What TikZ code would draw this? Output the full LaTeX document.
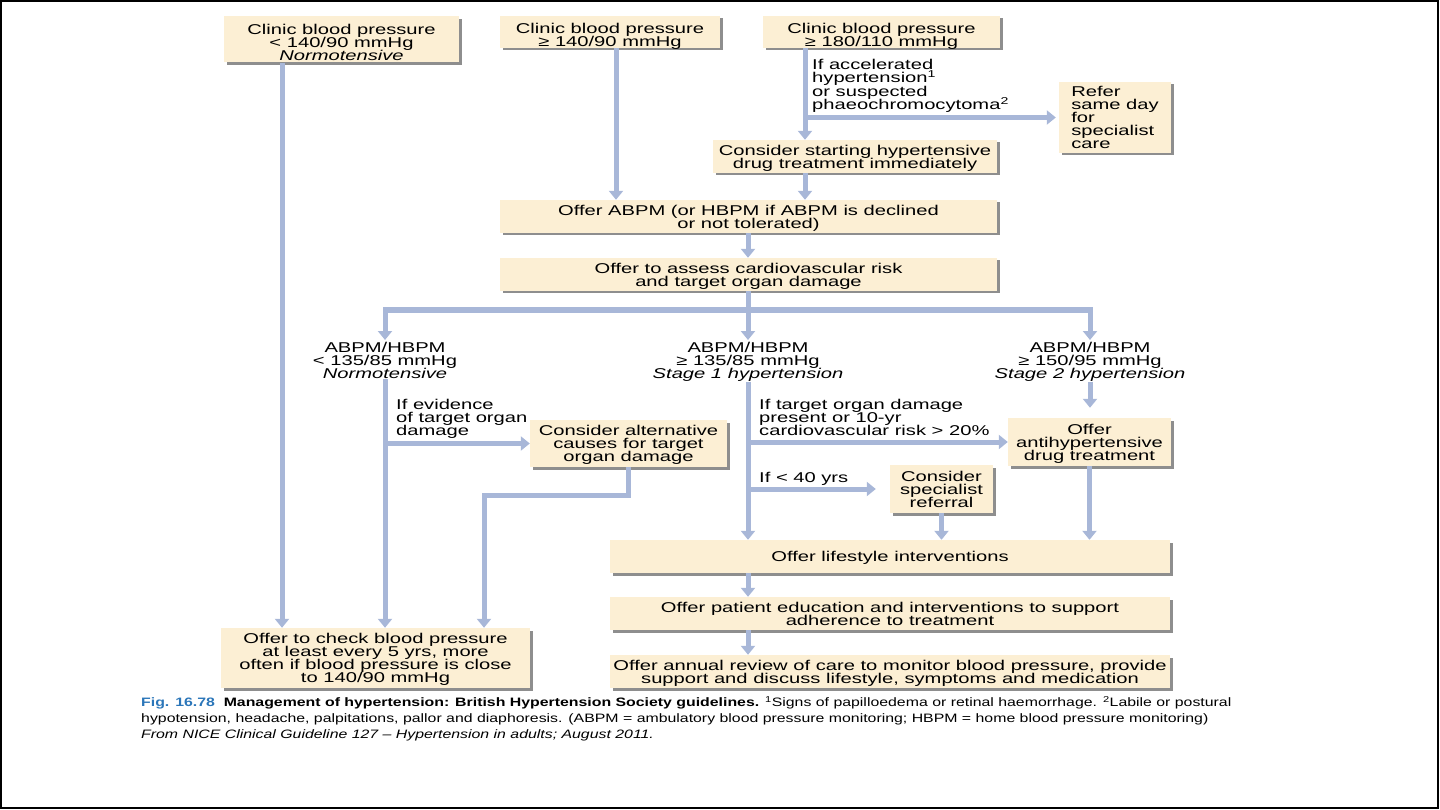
\documentclass[tikz,border=0pt]{standalone}
\usepackage{fontspec}
\setmainfont{Liberation Sans}[FakeStretch=1.42]
\newfontfamily\capfont{Liberation Sans}[FakeStretch=1.3]
\usetikzlibrary{arrows.meta,shadows,calc}
\definecolor{boxc}{HTML}{FCEFD4}
\definecolor{arrc}{HTML}{A8B7D8}
\definecolor{shadc}{HTML}{8E8E8E}
\definecolor{figblue}{HTML}{2B76B9}
\newcommand{\boxfont}{\fontsize{14.2}{13}\selectfont\lineskiplimit=-20pt\relax}
\newcommand{\lowstrut}{\rule{0pt}{15.5pt}}
\begin{document}
\begin{tikzpicture}[x=1pt,y=-1pt,
  box/.style={fill=boxc, inner sep=0pt, align=center, text depth=0pt,
    font=\boxfont,
    drop shadow={shadow xshift=2.5pt, shadow yshift=-2.5pt, fill=shadc, opacity=1}},
  lbl/.style={inner sep=0pt, align=left, anchor=north west, font=\boxfont},
  clbl/.style={inner sep=0pt, align=center, anchor=north, font=\boxfont},
  arr/.style={draw=arrc, line width=5pt, -{Triangle[width=14pt,length=9pt]}},
  ln/.style={draw=arrc, line width=5pt},
  captxt/.style={inner sep=0pt, align=left, anchor=north west, font={\capfont\fontsize{12.2}{16}\selectfont}}]
\useasboundingbox (0,0) rectangle (1440,810);
\draw[black, line width=2pt] (1,1) rectangle (1438,808);

% boxes
\node[box, minimum width=235pt, minimum height=46pt] (A) at (341.5,39.5) {\lowstrut Clinic blood pressure\\< 140/90 mmHg\\\textit{Normotensive}};
\node[box, minimum width=220pt, minimum height=32pt] (B) at (610,32) {\lowstrut Clinic blood pressure\\≥ 140/90 mmHg};
\node[box, minimum width=237pt, minimum height=32pt] (C) at (881.5,32) {\lowstrut Clinic blood pressure\\≥ 180/110 mmHg};
\node[box, minimum width=112pt, minimum height=71pt, align=left] (refer) at (1115,117.5) {Refer\\same day\\for\\specialist\\care};
\node[box, minimum width=284pt, minimum height=33pt] (cstart) at (855,156.5) {Consider starting hypertensive\\drug treatment immediately};
\node[box, minimum width=497pt, minimum height=33pt] (abpm) at (748.5,216.5) {Offer ABPM (or HBPM if ABPM is declined\\or not tolerated)};
\node[box, minimum width=497pt, minimum height=33pt] (assess) at (748.5,274.5) {Offer to assess cardiovascular risk\\and target organ damage};

\node[clbl] (L1) at (385,342) {ABPM/HBPM\\< 135/85 mmHg\\\textit{Normotensive}};
\node[clbl] (L2) at (748,342) {ABPM/HBPM\\≥ 135/85 mmHg\\\textit{Stage 1 hypertension}};
\node[clbl] (L3) at (1090,342) {ABPM/HBPM\\≥ 150/95 mmHg\\\textit{Stage 2 hypertension}};

\node[box, minimum width=197pt, minimum height=47pt] (calt) at (628.5,443.5) {Consider alternative\\causes for target\\organ damage};
\node[box, minimum width=163pt, minimum height=48pt] (anti) at (1089.5,442) {Offer\\antihypertensive\\drug treatment};
\node[box, minimum width=103pt, minimum height=48pt] (spec) at (941.5,489) {Consider\\specialist\\referral};
\node[box, minimum width=560pt, minimum height=33pt] (life) at (890,556.5) {Offer lifestyle interventions};
\node[box, minimum width=560pt, minimum height=33pt] (educ) at (890,613.5) {Offer patient education and interventions to support\\adherence to treatment};
\node[box, minimum width=560pt, minimum height=33pt] (annual) at (890,671.5) {Offer annual review of care to monitor blood pressure, provide\\support and discuss lifestyle, symptoms and medication};
\node[box, minimum width=309pt, minimum height=60pt] (chk) at (375.5,658) {Offer to check blood pressure\\at least every 5 yrs, more\\often if blood pressure is close\\to 140/90 mmHg};

% edge labels
\node[lbl, font={\fontsize{14.2}{13.3}\selectfont\lineskiplimit=-20pt\relax}] (e1) at (812,59) {If accelerated\\hypertension\textsuperscript{1}\\or suspected\\phaeochromocytoma\textsuperscript{2}};
\node[lbl] (e2) at (396,399) {If evidence\\of target organ\\damage};
\node[lbl] (e3) at (759,399) {If target organ damage\\present or 10-yr\\cardiovascular risk > 20\%};
\node[lbl] (e4) at (759,472) {If < 40 yrs};

% coordinates
\coordinate (xA) at (282,0);
\coordinate (xB) at (616,0);
\coordinate (xC) at (805,0);
\coordinate (j) at (748,310);
\coordinate (k1) at (484,495);

% connectors
\draw[arr] (A.south -| xA) -- (chk.north -| xA);
\draw[arr] (B.south -| xB) -- (abpm.north -| xB);
\draw[arr] (C.south -| xC) -- (cstart.north -| xC);
\draw[arr, shorten >=3pt] (xC |- refer.west) -- (refer.west);
\draw[arr] (cstart.south -| xC) -- (abpm.north -| xC);
\draw[arr] (abpm.south -| j) -- (assess.north -| j);
\draw[ln] (assess.south -| j) -- (j);
\draw[arr, shorten >=2pt] (j) -- (L2.north);
\draw[arr, shorten >=2pt] ($(j)+(2.5,0)$) -| (L1.north);
\draw[arr, shorten >=2pt] ($(j)-(2.5,0)$) -| (L3.north);

\draw[arr] (L1.south) -- (chk.north -| L1.south);
\draw[arr] (L1.south |- calt.west) -- (calt.west);
\draw[arr] (calt.south) |- (k1) -- (chk.north -| k1);

\draw[arr] (L2.south) -- (life.north -| L2.south);
\draw[arr] (L2.south |- anti.west) -- (anti.west);
\draw[arr, shorten >=14pt] (L2.south |- spec.west) -- (spec.west);

\draw[arr, shorten >=10pt] (L3.south) -- (anti.north -| L3.south);
\draw[arr] (anti.south) -- (life.north -| anti.south);
\draw[arr] (spec.south) -- (life.north -| spec.south);

\draw[arr] (life.south -| j) -- (educ.north -| j);
\draw[arr] (educ.south -| j) -- (annual.north -| j);

% caption
\node[captxt] (capt) at (141,696) {\textcolor{figblue}{\textbf{Fig. 16.78}}\ \ \textbf{Management of hypertension: British Hypertension Society guidelines.} \textsuperscript{1}Signs of papilloedema or retinal haemorrhage. \textsuperscript{2}Labile or postural\\hypotension, headache, palpitations, pallor and diaphoresis. (ABPM = ambulatory blood pressure monitoring; HBPM = home blood pressure monitoring)\\\textit{From NICE Clinical Guideline 127 – Hypertension in adults; August 2011.}};
\end{tikzpicture}
\end{document}
